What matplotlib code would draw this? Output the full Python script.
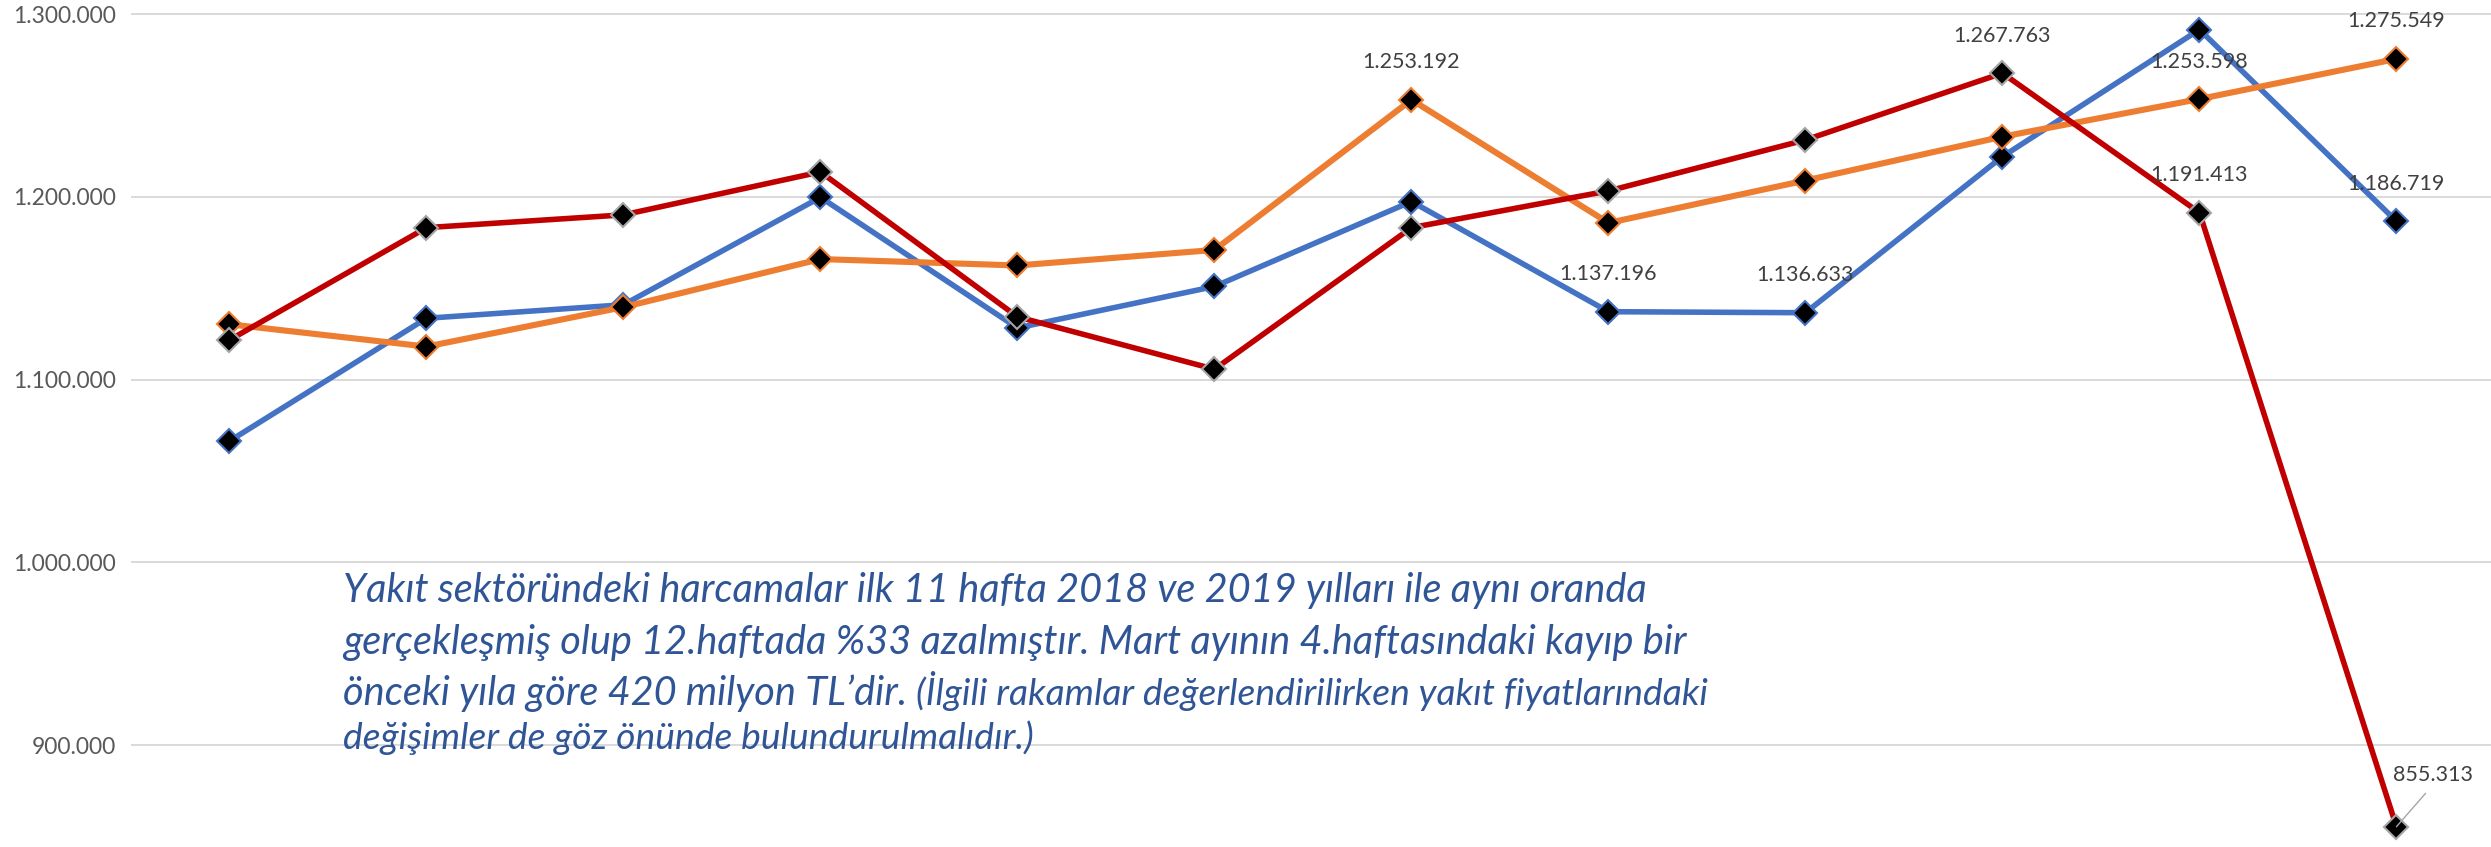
import numpy as np
import matplotlib.pyplot as plt
import matplotlib.ticker as ticker

# haftalar ve seriler
haftalar = list(range(1, 13))
seri_mavi = [1066400, 1133600, 1141000, 1199800, 1128300, 1151000,
             1197500, 1137196, 1136633, 1222100, 1291600, 1186719]
seri_turuncu = [1130300, 1118100, 1139700, 1166000, 1162500, 1171000,
                1253192, 1185800, 1209000, 1233000, 1253598, 1275549]
seri_kirmizi = [1121700, 1183200, 1190200, 1213700, 1134400, 1105700,
                1183200, 1203300, 1231200, 1267763, 1191413, 855313]
y_ticks = [900000, 1000000, 1100000, 1200000, 1300000]

# etiket gösterilen noktalar (hafta indeksleri)
etiket_mavi = [7, 8, 11]
etiket_turuncu = [6, 10, 11]
etiket_kirmizi = [9, 10]

metin_buyuk = ["Yakıt sektöründeki harcamalar ilk 11 hafta 2018 ve 2019 yılları ile aynı oranda",
               "gerçekleşmiş olup 12.haftada %33 azalmıştır. Mart ayının 4.haftasındaki kayıp bir",
               "önceki yıla göre 420 milyon TL’dir. "]
metin_kucuk = ["(İlgili rakamlar değerlendirilirken yakıt fiyatlarındaki",
               "değişimler de göz önünde bulundurulmalıdır.)"]


def tl_format(v, pos=None):
    return "{:,.0f}".format(v).replace(",", ".")


W, H = 2491, 847
fig = plt.figure(figsize=(W / 100, H / 100), dpi=100)
ax = fig.add_axes([131 / W, 0, 1 - 131 / W, 1])

seriler = [(seri_mavi, '#4472C4', '#4472C4', 4.0, etiket_mavi),
           (seri_turuncu, '#ED7D31', '#ED7D31', 4.4, etiket_turuncu),
           (seri_kirmizi, '#C00000', '#A5A5A5', 4.0, etiket_kirmizi)]

z = 3
for vals, renk, kenar, kalinlik, etiketler in seriler:
    ax.plot(haftalar, vals, color=renk, lw=kalinlik, marker='D', ms=12.5,
            mfc='black', mec=kenar, mew=1.5, solid_joinstyle='round',
            solid_capstyle='round', zorder=z)
    z += 1
    for i in etiketler:
        ax.annotate(tl_format(vals[i]), (haftalar[i], vals[i]), xytext=(0, 27),
                    textcoords='offset points', ha='center', va='center',
                    fontsize=15.5, color='#404040', family='Lato', zorder=10)

# son noktanın etiketi (leader çizgisi ile)
ax.annotate(tl_format(seri_kirmizi[11]), (haftalar[11], seri_kirmizi[11]),
            xytext=(26, 37), textcoords='offset points', ha='center', va='center',
            fontsize=15.5, color='#404040', family='Lato', zorder=10,
            arrowprops=dict(arrowstyle='-', color='#A6A6A6', lw=1.0,
                            relpos=(0.5, 0), shrinkA=5, shrinkB=0))

ax.set_xlim(0.5, 12.48)
ax.set_ylim(844200, 1307800)
ax.set_yticks(y_ticks)
ax.yaxis.set_major_formatter(ticker.FuncFormatter(tl_format))
ax.set_xticks([])
ax.grid(axis='y', color='#D9D9D9', lw=1.4)
ax.set_axisbelow(True)
for s in ax.spines.values():
    s.set_visible(False)
ax.tick_params(axis='y', length=0, pad=11, labelsize=16.5, labelcolor='#595959')
for t in ax.get_yticklabels():
    t.set_family('Lato')

# açıklama metni
renk_metin = '#2F5597'
x0 = 343 / W
satirlar_y = [602, 654, 705, 749]
for k, satir in enumerate(metin_buyuk):
    t = fig.text(x0, 1 - satirlar_y[k] / H, satir, fontsize=28.6, style='italic',
                 family='Lato', color=renk_metin, va='baseline', ha='left')
fig.canvas.draw()
bb = t.get_window_extent(fig.canvas.get_renderer())
fig.text(bb.x1 / W, 1 - satirlar_y[2] / H, metin_kucuk[0], fontsize=26.8, style='italic',
         family='Lato', color=renk_metin, va='baseline', ha='left')
fig.text(x0, 1 - satirlar_y[3] / H, metin_kucuk[1], fontsize=26.8, style='italic',
         family='Lato', color=renk_metin, va='baseline', ha='left')

plt.savefig('out.png', dpi=100)
